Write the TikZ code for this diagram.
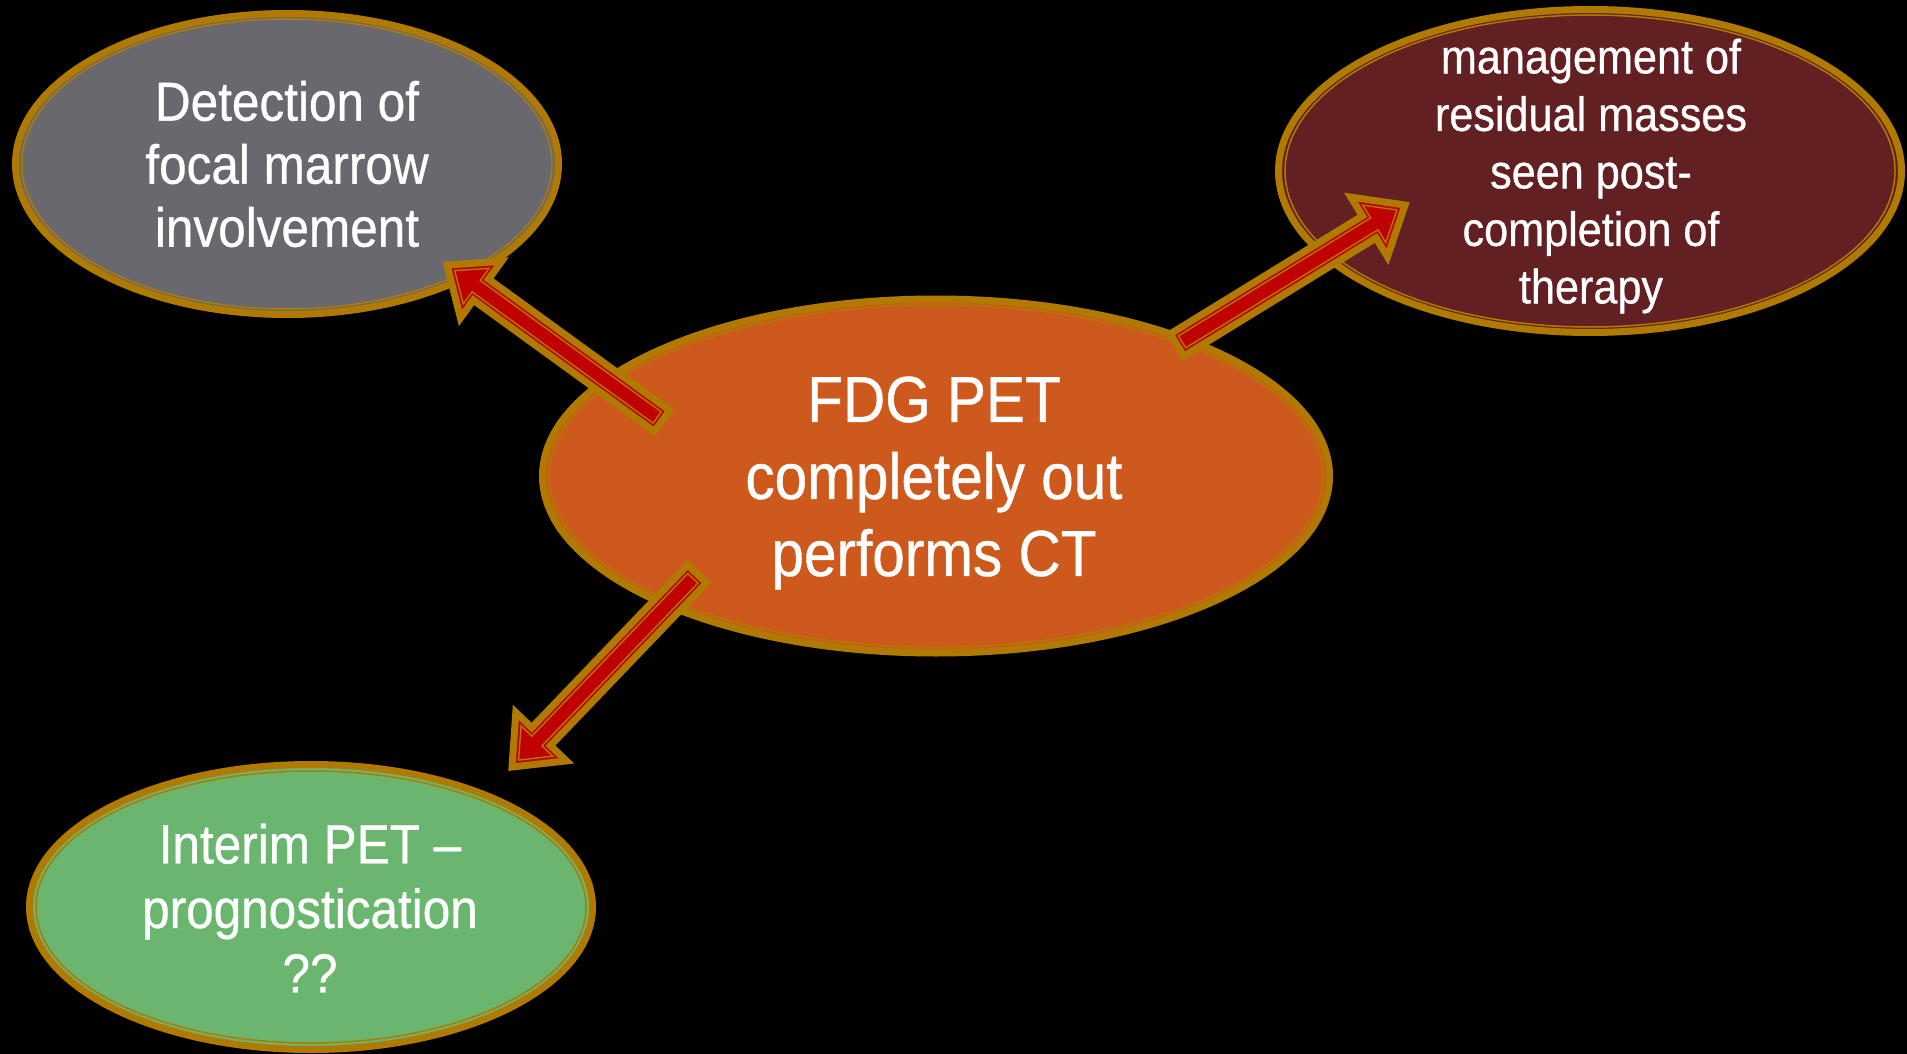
\documentclass[tikz,border=0pt]{standalone}
\usepackage{fontspec}
\setmainfont{Liberation Sans}[FakeStretch=0.9,FakeBold=0.6]
\usetikzlibrary{shapes.geometric,calc}
\definecolor{goldc}{HTML}{B07A00}
\definecolor{redc}{HTML}{C00000}
\definecolor{grayc}{HTML}{69686E}
\definecolor{maroonc}{HTML}{632023}
\definecolor{orangec}{HTML}{CD5A1C}
\definecolor{greenc}{HTML}{6BB66F}
\tikzset{
  bubble/.style={ellipse, draw=goldc, line width=7pt, inner sep=0pt},
  innerring/.style={draw=goldc, line width=1.5pt},
  txt/.style={text=white, align=center, inner sep=0pt},
  arrowouter/.style={fill=redc, draw=goldc, line width=7pt, line join=miter},
  arrowinner/.style={draw=goldc, line width=1.4pt, line join=miter},
}
\newcommand\blockarrow[2]{%
  \path let \p1=($(#2)-(#1)$) in \pgfextra{%
    \pgfmathsetmacro\tmpang{atan2(\y1,\x1)}\xdef\arrang{\tmpang}%
    \pgfmathsetmacro\tmplen{veclen(\x1,\y1)}\xdef\arrlen{\tmplen}};
  \pgfmathsetmacro\arrbase{\arrlen-42}%
  \pgfmathsetmacro\arrbin{\arrlen-36}%
  \pgfmathsetmacro\arrtipin{\arrlen-9.5}%
  \begin{scope}[shift={(#1)},rotate=\arrang]
    \draw[arrowouter] (0pt,13pt) -- (\arrbase pt,13pt) -- (\arrbase pt,35pt) -- (\arrlen pt,0pt)
      -- (\arrbase pt,-35pt) -- (\arrbase pt,-13pt) -- (0pt,-13pt) -- cycle;
    \draw[arrowinner] (6pt,7pt) -- (\arrbin pt,7pt) -- (\arrbin pt,22pt) -- (\arrtipin pt,0pt)
      -- (\arrbin pt,-22pt) -- (\arrbin pt,-7pt) -- (6pt,-7pt) -- cycle;
  \end{scope}}
\begin{document}
\begin{tikzpicture}[x=1pt,y=-1pt]
\fill[black] (0,0) rectangle (1907,1054);
\useasboundingbox (0,0) rectangle (1907,1054);
% ellipses
\node[bubble, fill=grayc, minimum width=543pt, minimum height=301pt] (gray) at (287,164) {};
\draw[innerring] (gray.center) ellipse [x radius=265pt, y radius=145pt];
\node[bubble, fill=maroonc, minimum width=623pt, minimum height=323pt] (maroon) at (1590,171) {};
\draw[innerring] (maroon.center) ellipse [x radius=305pt, y radius=156pt];
\node[bubble, fill=orangec, minimum width=787pt, minimum height=354pt] (orange) at (936,476) {};
\draw[innerring] (orange.center) ellipse [x radius=387pt, y radius=171pt];
\node[bubble, fill=greenc, minimum width=563pt, minimum height=285pt] (green) at (311,907) {};
\draw[innerring] (green.center) ellipse [x radius=275pt, y radius=136pt];
% texts
\node[txt, font=\fontsize{55}{63}\selectfont] (tgray) at (287,164) {Detection of\\focal marrow\\involvement};
\node[txt, font=\fontsize{65}{77}\selectfont] (torange) at (934,483) {FDG PET\\completely out\\performs CT};
\node[txt, font=\fontsize{48}{57.5}\selectfont] (tmaroon) at (1591,176) {management of\\residual masses\\seen post-\\completion of\\therapy};
\node[txt, font=\fontsize{55}{64.5}\selectfont] (tgreen) at (310,908) {Interim PET --\\prognostication\\??};
% arrows
\coordinate (a1s) at (662,421);
\coordinate (a1e) at (447,265);
\coordinate (a2s) at (1177,345);
\coordinate (a2e) at (1405,205);
\coordinate (a3s) at (697,574);
\coordinate (a3e) at (512,767);
\blockarrow{a1s}{a1e}
\blockarrow{a2s}{a2e}
\blockarrow{a3s}{a3e}
\end{tikzpicture}
\end{document}
